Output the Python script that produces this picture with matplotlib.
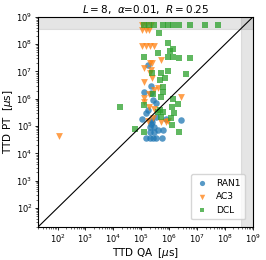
import numpy as np
import matplotlib
matplotlib.use('Agg')
import matplotlib.pyplot as plt

# timeout threshold (shaded) and value used for timed-out runs
t_max = 3.6e8
lims = (20, 1e9)

ran1_qa = [1.7e5, 2.3e5, 2.6e5, 3.4e5, 2.3e5, 1.3e5, 1.5e5, 1.1e5, 2.3e5, 3.4e5, 7.8e5, 2.6e6,
           2.0e5, 2.95e5, 2.0e5, 2.95e5, 3.9e5, 5.9e5, 1.5e5, 2.0e5, 2.6e5, 3.5e5, 5.6e5,
           1.8e5, 2.2e5, 2.5e5]
ran1_pt = [1.7e7, 2.9e6, 9.1e5, 6.9e5, 1.6e6, 1.8e6, 3.0e5, 1.8e5, 1.7e5, 2.2e5, 1.8e5, 1.7e5,
           9.5e4, 9.5e4, 6.3e4, 6.3e4, 7.2e4, 7.2e4, 3.6e4, 3.6e4, 3.6e4, 3.6e4, 3.6e4,
           4.0e5, 1.2e5, 1.4e5]

ac3_qa = [1.1e5, 1.5e5, 2.2e5, 1.1e5, 1.5e5, 1.9e5, 1.1e5, 1.5e5, 2.0e5, 2.8e5,
          4.9e5, 2.0e5, 2.5e5, 1.3e5, 2.3e5, 2.1e5, 2.5e5, 1.3e5, 3.9e5, 2.8e5,
          1.95e5, 1.3e5, 1.2e5, 2.7e6, 1.95e5, 2.95e5, 1.7e5, 5.1e5, 7.8e5, 8.7e5,
          2.6e5, 115]
ac3_pt = [5.2e8, 5.2e8, 5.2e8, 3.3e8, 3.3e8, 3.3e8, 8.7e7, 8.7e7, 8.7e7, 8.7e7,
          2.6e7, 2.0e7, 2.0e7, 1.3e7, 1.15e7, 8.7e6, 5.6e6, 4.1e6, 2.5e6, 2.1e6,
          1.5e6, 1.05e6, 7.9e5, 1.2e6, 4.9e5, 4.2e5, 1.5e5, 1.4e5, 1.4e5, 1.5e5,
          1.95e5, 4.4e4]

dcl_qa = [1.2e5, 1.9e5, 2.8e5, 5.9e5, 8.9e5, 1.35e6, 2.3e6, 5.4e6, 1.9e7, 5.6e7,
          4.3e5, 8.9e5, 1.35e6, 1.1e6, 1.2e5, 3.9e5, 8.9e5, 1.35e6, 2.2e6, 5.4e6,
          2.4e5, 4.9e5, 8.9e5, 3.9e6, 4.5e5, 6.8e5, 5.9e5, 2.6e5, 5.9e5, 5.1e5,
          1.35e6, 1.3e6, 2.0e6, 1.7e4, 1.2e5, 4.5e5, 5.9e5, 1.45e6, 5.8e4, 1.2e5,
          1.3e6, 2.2e6, 1.2e6, 5.1e5, 3.9e5]
dcl_pt = [5.2e8, 5.2e8, 5.2e8, 5.2e8, 5.2e8, 5.2e8, 5.2e8, 5.2e8, 5.2e8, 5.2e8,
          2.6e8, 1.15e8, 6.6e7, 5.4e7, 3.5e7, 4.7e7, 3.3e7, 3.3e7, 3.1e7, 3.2e7,
          8.7e6, 9.1e6, 1.07e7, 7.9e6, 4.9e6, 6.0e6, 2.8e6, 1.5e6, 1.8e6, 1.2e6,
          1.0e6, 4.9e5, 6.5e5, 5.1e5, 6.0e5, 3.9e5, 3.4e5, 3.0e5, 7.8e4, 6.3e4,
          1.1e5, 6.3e4, 1.95e5, 2.2e5, 3.4e5]

fig = plt.figure(figsize=(2.66, 2.6), dpi=100)
ax = fig.add_axes([0.143, 0.127, 0.808, 0.808])

ax.axhspan(t_max, lims[1], color='gray', alpha=0.2, lw=0.8)
ax.axvspan(t_max, lims[1], color='gray', alpha=0.2, lw=0.8)
ax.plot(lims, lims, color='k', lw=0.8)

ax.scatter(ran1_qa, ran1_pt, s=22, marker='o', color='tab:blue', alpha=0.75, lw=0, label='RAN1')
ax.scatter(ac3_qa, ac3_pt, s=24, marker='v', color='tab:orange', alpha=0.75, lw=0, label='AC3')
ax.scatter(dcl_qa, dcl_pt, s=20, marker='s', color='tab:green', alpha=0.75, lw=0, label='DCL')

ax.set_xscale('log')
ax.set_yscale('log')
ax.set_xlim(lims)
ax.set_ylim(lims)
ax.set_xticks([1e2, 1e3, 1e4, 1e5, 1e6, 1e7, 1e8, 1e9])
ax.set_yticks([1e2, 1e3, 1e4, 1e5, 1e6, 1e7, 1e8, 1e9])
ax.tick_params(labelsize=6, length=2.5, width=0.6, pad=1.5)
ax.tick_params(which='minor', length=1.5, width=0.4)
for s in ax.spines.values():
    s.set_linewidth(0.8)

ax.set_xlabel(r'TTD QA  [$\mu$s]', fontsize=7.5, labelpad=1)
ax.set_ylabel(r'TTD PT  [$\mu$s]', fontsize=7.5, labelpad=1)
ax.set_title(r'$L=8$,  $\alpha$=0.01,  $R=0.25$', fontsize=7.5, pad=3)
ax.legend(loc='lower right', fontsize=6.5, handletextpad=0.8, borderpad=0.5,
          labelspacing=0.5, handlelength=1.5, markerscale=0.8,
          bbox_to_anchor=(0.985, 0.015))

fig.savefig('out.png', dpi=100)
